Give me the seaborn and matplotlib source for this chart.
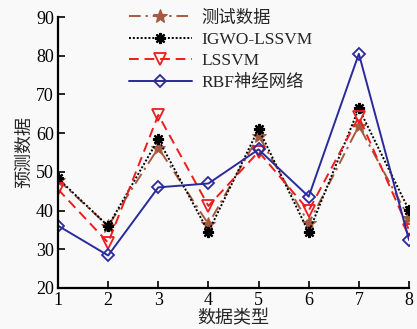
import matplotlib
matplotlib.use("Agg")
import matplotlib.pyplot as plt
import seaborn as sns
import pandas as pd

categories = [1, 2, 3, 4, 5, 6, 7, 8]
test_data = [48.0, 36.0, 56.2, 36.5, 59.3, 36.7, 61.9, 38.0]
igwo_lssvm = [48.3, 36.0, 58.4, 34.5, 61.1, 34.4, 66.4, 40.1]
lssvm = [45.5, 31.7, 64.7, 41.2, 55.2, 40.0, 64.2, 35.0]
rbf = [36.1, 28.4, 46.0, 47.0, 55.8, 43.6, 80.5, 32.4]
series_names = ["测试数据", "IGWO-LSSVM", "LSSVM", "RBF神经网络"]
yticks = [20, 30, 40, 50, 60, 70, 80, 90]

sns.set_style("ticks")
plt.rcParams['font.family'] = ['Liberation Serif', 'Noto Sans CJK SC']
plt.rcParams['mathtext.fontset'] = 'stix'

fig = plt.figure(figsize=(4.17, 3.29), dpi=100, facecolor='#f9f9f9')
ax = fig.add_axes([58/417, 1 - 288/329, (409-58)/417, (288-17)/329])
ax.set_facecolor('#f9f9f9')

styles = [
    dict(color='#a55a3f', linestyle=(0, (6, 2.5, 1.2, 2.5)), marker='*', markersize=10,
         markerfacecolor='#a55a3f', markeredgecolor='#a55a3f'),
    dict(color='black', linestyle=(0, (1, 1)), marker=(8, 2, 0), markersize=8,
         markeredgewidth=1.6, markeredgecolor='black'),
    dict(color='#ee1c1c', linestyle=(0, (5, 3)), marker='v', markersize=8,
         markerfacecolor='none', markeredgecolor='#ee1c1c', markeredgewidth=1.3),
    dict(color='#2a2a9a', linestyle='-', marker='D', markersize=6,
         markerfacecolor='none', markeredgecolor='#2a2a9a', markeredgewidth=1.3),
]
for name, vals, st in zip(series_names, [test_data, igwo_lssvm, lssvm, rbf], styles):
    df = pd.DataFrame({"x": categories, "y": vals})
    sns.lineplot(data=df, x="x", y="y", ax=ax, label=name, linewidth=1.4, **st)

ax.set_xlim(1, 8)
ax.set_ylim(20, 90)
ax.set_xticks(categories)
ax.set_yticks(yticks)
for s in ['top', 'right']:
    ax.spines[s].set_visible(False)
for s in ['left', 'bottom']:
    ax.spines[s].set_linewidth(1.6)
    ax.spines[s].set_color('black')
ax.tick_params(direction='in', length=5, width=1.2, labelsize=13, pad=3, colors='black')
ax.set_xlabel("数据类型", fontsize=13, labelpad=1)
ax.set_ylabel("预测数据", fontsize=13, labelpad=2)

leg = ax.legend(loc='upper left', bbox_to_anchor=(0.182, 1.05), frameon=False,
                fontsize=12.5, handlelength=3.64, handletextpad=0.55,
                labelspacing=0.3, borderaxespad=0)

fig.savefig("out.png", dpi=100, facecolor=fig.get_facecolor())
